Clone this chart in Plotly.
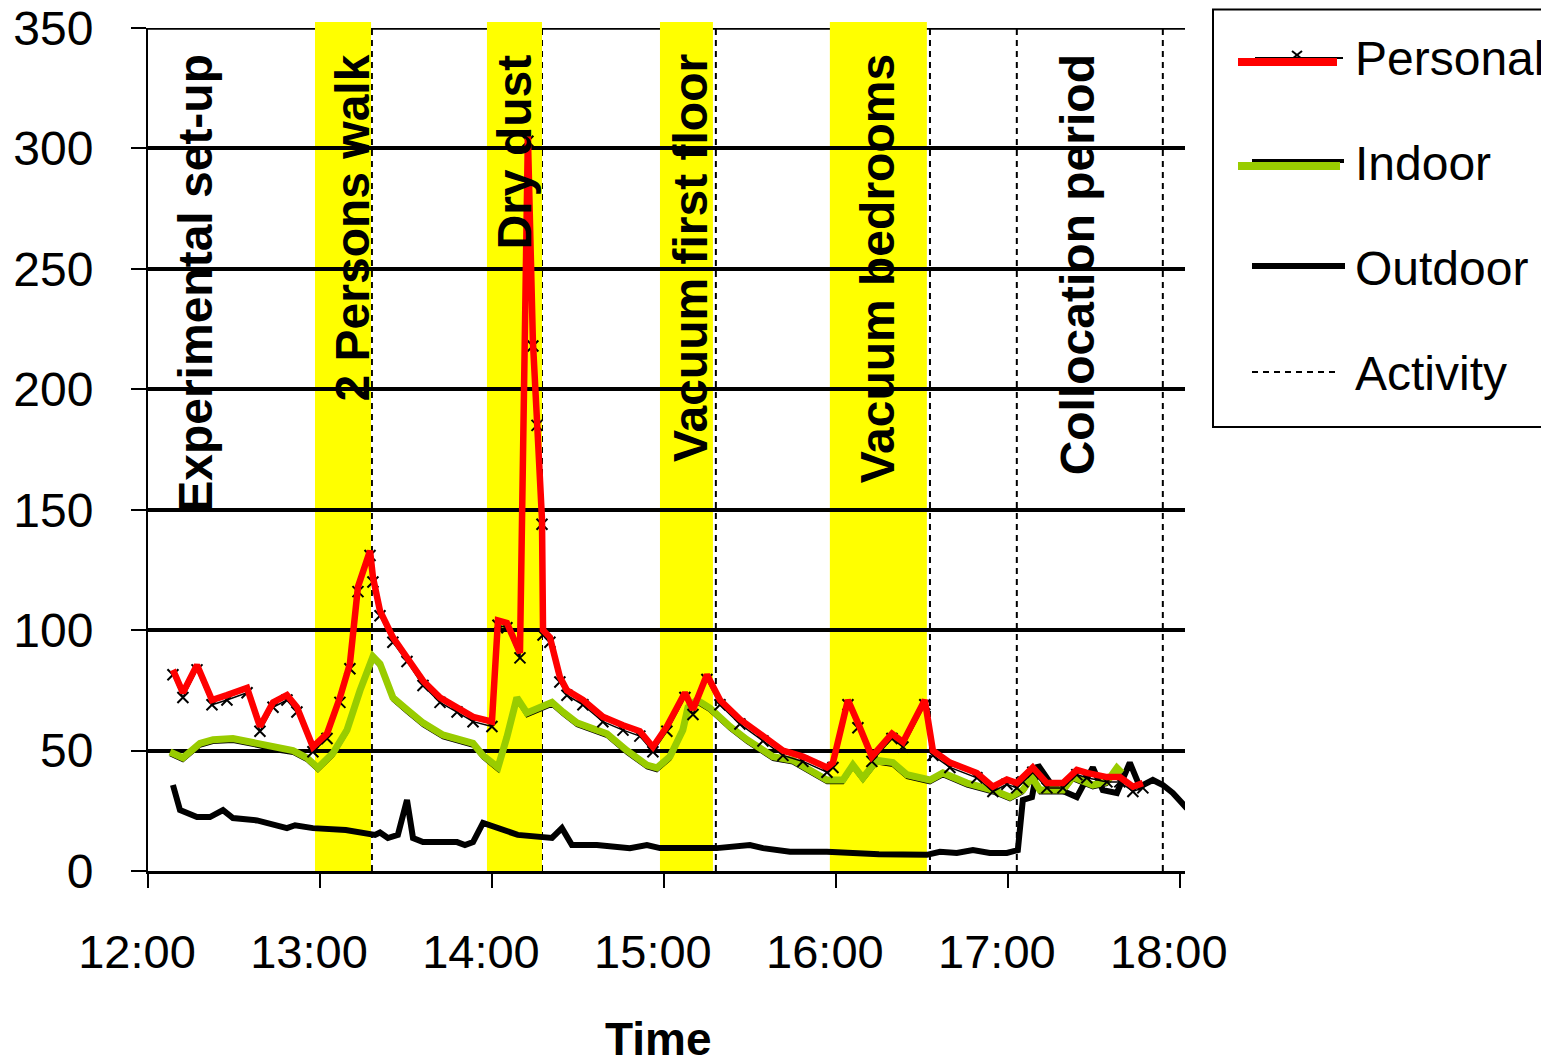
import plotly.graph_objects as go

# ---------------- data (time in decimal hours) ----------------
personal_t = [12.145, 12.203, 12.285, 12.372, 12.459, 12.576, 12.651, 12.727, 12.808, 12.866,
              12.959, 13.041, 13.116, 13.174, 13.221, 13.291, 13.308, 13.349, 13.424, 13.506,
              13.599, 13.698, 13.797, 13.890, 14.000, 14.035, 14.087, 14.163, 14.209, 14.238,
              14.262, 14.291, 14.297, 14.337, 14.395, 14.436, 14.529, 14.645, 14.762, 14.860,
              14.936, 15.017, 15.122, 15.169, 15.250, 15.326, 15.442, 15.576, 15.692, 15.808,
              15.948, 15.983, 16.070, 16.128, 16.209, 16.326, 16.390, 16.517, 16.564, 16.663,
              16.820, 16.913, 16.994, 17.052, 17.087, 17.145, 17.227, 17.320, 17.401, 17.459,
              17.576, 17.651, 17.727, 17.785]
personal_v = [83.5, 74, 85.5, 71, 73, 76, 60, 70, 73, 68,
              51.5, 57, 72, 86, 118, 133, 122, 108, 97, 89,
              79, 72, 68, 64, 62, 104, 103, 90.5, 305, 220,
              187, 146, 100, 97, 80.5, 75, 71, 64, 60.5, 58,
              51.5, 60, 74, 67, 81.5, 71, 63, 56, 50, 47.5,
              43, 45, 71, 61.5, 47.5, 57, 53.5, 71, 50, 45,
              40.7, 35, 38, 36.5, 39, 43, 36.5, 36.5, 42, 40.7,
              39, 39, 35, 36.5]

indoor_t = [12.128, 12.203, 12.302, 12.378, 12.494, 12.634, 12.750, 12.843, 12.924, 12.988,
            13.076, 13.157, 13.233, 13.308, 13.349, 13.424, 13.506, 13.599, 13.715, 13.814,
            13.890, 13.948, 14.035, 14.087, 14.145, 14.203, 14.279, 14.349, 14.413, 14.494,
            14.669, 14.785, 14.901, 14.959, 15.035, 15.110, 15.140, 15.192, 15.267, 15.384,
            15.483, 15.634, 15.750, 15.849, 15.948, 16.041, 16.099, 16.157, 16.238, 16.331,
            16.413, 16.547, 16.622, 16.762, 16.913, 17.012, 17.087, 17.140, 17.186, 17.320,
            17.378, 17.494, 17.576, 17.634, 17.663]
indoor_v = [49.4, 47, 53, 54.5, 55, 53, 51, 50, 47, 42.8,
            49, 58.5, 75, 89, 86, 72, 67, 61.5, 56.5, 54.5,
            53, 48, 43, 55.6, 72, 65.6, 68, 70, 66, 61.5,
            57, 50, 44, 42.8, 47.5, 58.5, 68, 71, 67.7, 60,
            54.5, 47.5, 46, 42, 37.8, 37.8, 44, 38.6, 46, 45,
            40, 37.8, 40.7, 36.5, 33.6, 30.7, 33.6, 39, 33.6, 33.6,
            39, 35.7, 37, 42.8, 40.7]

outdoor_t = [12.145, 12.186, 12.285, 12.360, 12.436, 12.494, 12.634, 12.727, 12.808, 12.855,
             12.924, 12.959, 13.150, 13.320, 13.349, 13.395, 13.453, 13.506, 13.541, 13.599,
             13.797, 13.843, 13.890, 13.948, 14.150, 14.291, 14.349, 14.407, 14.465, 14.610,
             14.802, 14.901, 14.977, 15.150, 15.308, 15.500, 15.576, 15.733, 15.948, 16.250,
             16.529, 16.605, 16.703, 16.797, 16.895, 16.994, 17.058, 17.087, 17.140, 17.175,
             17.262, 17.401, 17.494, 17.552, 17.634, 17.709, 17.767, 17.843, 17.901, 17.959,
             18.041]
outdoor_v = [35.7, 25.3, 22.4, 22.4, 25.3, 22, 21, 19, 17.8, 19,
             17.8, 17.8, 17, 15, 16, 13.7, 15, 29.5, 13.7, 12,
             12, 10.8, 12, 20, 15, 14, 13.7, 17.8, 10.8, 10.8,
             9.5, 10.8, 9.5, 9.5, 9.5, 10.8, 9.5, 8, 8, 7,
             6.7, 8, 7.5, 8.7, 7.5, 7.5, 8.7, 29.5, 30.7, 44,
             35, 30.7, 43, 33.6, 32.4, 45, 35, 37.8, 35.7, 32.4,
             26]

activity_t = [13.0, 13.302, 14.0, 14.291, 15.0, 15.302, 16.0, 16.547, 17.052, 17.901]

band_start = [12.971, 13.971, 14.977, 15.965]
band_end = [13.297, 14.291, 15.285, 16.529]

label_text = ["Experimental set-up", "2 Persons walk", "Dry dust",
              "Vacuum first floor", "Vacuum bedrooms", "Collocation period"]
label_t = [12.275, 13.192, 14.134, 15.151, 16.244, 17.407]

tick_hours = [12, 13, 14, 15, 16, 17, 18]
tick_text = ["12:00", "13:00", "14:00", "15:00", "16:00", "17:00", "18:00"]
y_ticks = [0, 50, 100, 150, 200, 250, 300, 350]
y_max = 350

series_names = ["Personal", "Indoor", "Outdoor", "Activity"]

# ---------------- layout geometry (screen pixels; page body has an 8px margin) ----------------
OFF = 8
W, H = 1549 - OFF, 1064 - OFF
SL, SR, ST, SB = 148, 1185, 28, 871
FONT = "Arial, Liberation Sans, sans-serif"


def px(xp):
    return (xp - SL) / (SR - SL)


def py(yp):
    return (SB - yp) / (SB - ST)


fig = go.Figure()

# Outdoor
fig.add_trace(go.Scatter(x=outdoor_t, y=outdoor_v, mode="lines",
                         line=dict(color="black", width=6), name=series_names[2],
                         showlegend=False))
# Indoor: black original line with green overpaint
fig.add_trace(go.Scatter(x=indoor_t, y=[v - 1.2 for v in indoor_v], mode="lines",
                         line=dict(color="black", width=3), showlegend=False))
fig.add_trace(go.Scatter(x=indoor_t, y=indoor_v, mode="lines",
                         line=dict(color="#99CC00", width=7), name=series_names[1],
                         showlegend=False))
# Personal: black line with x markers, red overpaint
fig.add_trace(go.Scatter(x=personal_t, y=[v - 2 for v in personal_v], mode="lines+markers",
                         line=dict(color="black", width=1.5),
                         marker=dict(symbol="x-thin", size=11, line=dict(color="black", width=2)),
                         showlegend=False))
fig.add_trace(go.Scatter(x=personal_t, y=personal_v, mode="lines",
                         line=dict(color="#FF0000", width=6.5), name=series_names[0],
                         showlegend=False))

shapes = []
# top gridline (at the upper end of the axis range)
shapes.append(dict(type="line", xref="paper", yref="y", x0=0, x1=1, y0=y_max, y1=y_max,
                   line=dict(color="black", width=3.5), layer="below"))
# activity dashed lines (under the yellow highlight)
for t in activity_t:
    shapes.append(dict(type="line", xref="x", yref="paper", x0=t, x1=t, y0=0, y1=1,
                       line=dict(color="black", width=2, dash="6px,5px"), layer="between"))
# yellow highlighter bands
for s, e in zip(band_start, band_end):
    shapes.append(dict(type="rect", xref="x", yref="paper", x0=s, x1=e, y0=py(874), y1=py(22),
                       fillcolor="#FFFF00", line=dict(width=0), layer="between"))

# legend box
shapes.append(dict(type="rect", xref="paper", yref="paper", x0=px(1213), x1=px(1560),
                   y0=py(427), y1=py(9.5), line=dict(color="black", width=2), fillcolor="white",
                   layer="above"))
# legend samples
shapes.append(dict(type="line", xref="paper", yref="paper", x0=px(1255), x1=px(1343),
                   y0=py(58), y1=py(58), line=dict(color="black", width=2), layer="above"))
shapes.append(dict(type="line", xref="paper", yref="paper", x0=px(1292), x1=px(1302),
                   y0=py(51), y1=py(59), line=dict(color="black", width=2), layer="above"))
shapes.append(dict(type="line", xref="paper", yref="paper", x0=px(1292), x1=px(1302),
                   y0=py(59), y1=py(51), line=dict(color="black", width=2), layer="above"))
shapes.append(dict(type="line", xref="paper", yref="paper", x0=px(1238), x1=px(1337),
                   y0=py(62), y1=py(62), line=dict(color="#FF0000", width=8), layer="above"))
shapes.append(dict(type="line", xref="paper", yref="paper", x0=px(1252), x1=px(1344),
                   y0=py(161), y1=py(161), line=dict(color="black", width=4), layer="above"))
shapes.append(dict(type="line", xref="paper", yref="paper", x0=px(1238), x1=px(1340),
                   y0=py(166), y1=py(166), line=dict(color="#99CC00", width=8), layer="above"))
shapes.append(dict(type="line", xref="paper", yref="paper", x0=px(1252), x1=px(1345),
                   y0=py(266), y1=py(266), line=dict(color="black", width=6), layer="above"))
shapes.append(dict(type="line", xref="paper", yref="paper", x0=px(1252), x1=px(1340),
                   y0=py(372), y1=py(372), line=dict(color="black", width=2, dash="6px,5px"),
                   layer="above"))

annotations = []
for name, yc in zip(series_names, [58, 163, 268, 373]):
    annotations.append(dict(text=name, xref="paper", yref="paper", x=px(1353), y=py(yc),
                            xanchor="left", yanchor="middle", showarrow=False,
                            font=dict(family=FONT, size=48, color="black")))
for txt, t in zip(label_text, label_t):
    annotations.append(dict(text="<b>%s</b>" % txt, xref="x", yref="paper", x=t, y=py(52),
                            xanchor="center", yanchor="top", textangle=-90, showarrow=False,
                            font=dict(family=FONT, size=48, color="black")))
annotations.append(dict(text="<b>Time</b>", xref="paper", yref="paper", x=px(658), y=py(1039),
                        xanchor="center", yanchor="middle", showarrow=False,
                        font=dict(family=FONT, size=46, color="black")))

fig.update_layout(
    width=W, height=H,
    margin=dict(l=SL - OFF, r=(W + OFF) - SR, t=ST - OFF, b=(H + OFF) - SB, pad=0, autoexpand=False),
    paper_bgcolor="white", plot_bgcolor="white",
    font=dict(family=FONT, size=47, color="black"),
    shapes=shapes, annotations=annotations, showlegend=False,
    xaxis=dict(range=[12, 18.03], tickvals=tick_hours, ticktext=tick_text, automargin=False,
               showgrid=False, zeroline=False, showline=True, linecolor="black", linewidth=3,
               ticks="outside", ticklen=14, tickwidth=2, tickcolor="black",
               ticklabelshift=-11, ticklabelstandoff=24, ticklabeloverflow="allow",
               tickfont=dict(family=FONT, size=47, color="black")),
    yaxis=dict(range=[0, y_max], tickvals=y_ticks, showgrid=True, gridcolor="black", gridwidth=3.5,
               zeroline=False, showline=True, linecolor="black", linewidth=2, automargin=False,
               ticks="outside", ticklen=15, tickwidth=2, tickcolor="black",
               ticklabelstandoff=28, ticklabeloverflow="allow",
               tickfont=dict(family=FONT, size=48, color="black")),
)

fig.write_html("out.html")
